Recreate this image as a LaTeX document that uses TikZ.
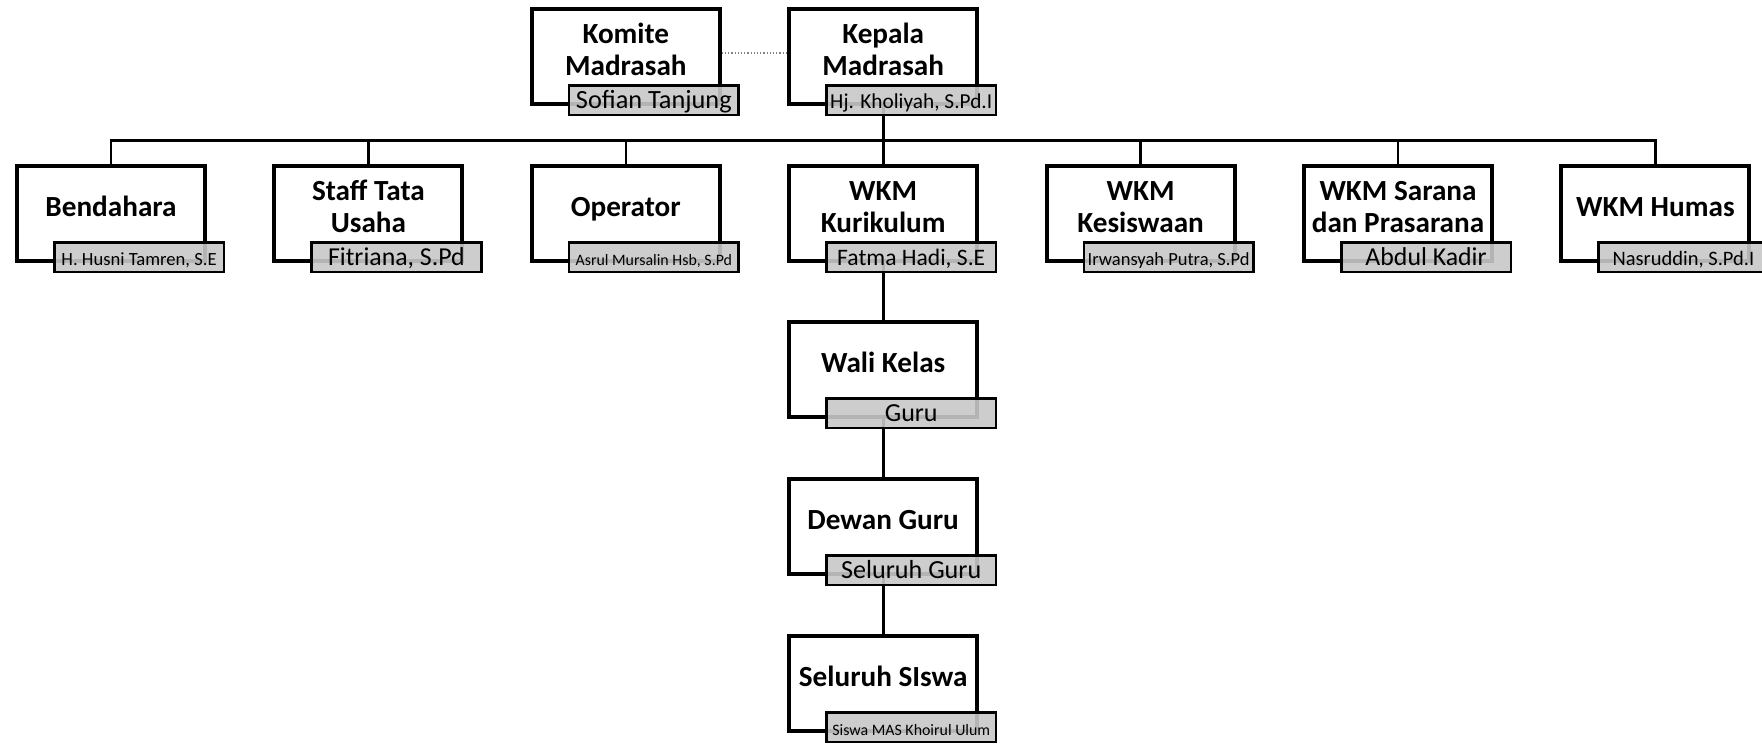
\documentclass[tikz,border=0pt]{standalone}
\usepackage{fontspec}
\setmainfont{Carlito}
\pgfdeclarelayer{bg}
\pgfsetlayers{bg,main}
\definecolor{lblgray}{RGB}{200,200,200}
\tikzset{
  mbox/.style={draw, line width=2pt, fill=white, minimum width=94pt, minimum height=47.5pt, inner sep=0pt},
  ttl/.style={inner sep=0pt, anchor=base, font=\fontsize{14.6}{16}\selectfont\bfseries},
  lbl/.style={draw, line width=1.25pt, fill=lblgray, fill opacity=0.9, text opacity=1, draw opacity=1,
    minimum width=84.8pt, minimum height=14.8pt, inner sep=0pt, text height=9pt, text depth=1pt, anchor=north west},
  conn/.style={line width=1.3pt, line join=miter},
  dotline/.style={densely dotted, line width=0.6pt, gray}
}
\newcommand\orgunit[7]{%
  \node[mbox] (#1) at ({#2+96},{#3+49.5}) {};
  \node[ttl] (#1T) at ({#2+96},{#3+#5}) {\begin{tabular}[t]{@{}c@{}}#4\end{tabular}};
  \node[lbl] (#1L) at ([shift={(38,77)}]#1.north west) {\fontsize{#6}{#6}\selectfont #7};
}
\begin{document}
\begin{tikzpicture}[x=0.5pt, y=-0.5pt]
\useasboundingbox (0,0) rectangle (1762,744);
\orgunit{komite}{529.8}{7}{Komite\\Madrasah}{36}{13.15}{Sofian Tanjung}
\orgunit{kepala}{787.2}{7}{Kepala\\Madrasah}{36}{10.65}{Hj. Kholiyah, S.Pd.I}
\orgunit{bendahara}{15}{164}{Bendahara}{52}{9.3}{H. Husni Tamren, S.E}
\orgunit{staff}{272.4}{164}{Staff Tata\\Usaha}{36}{12.9}{Fitriana, S.Pd}
\orgunit{operator}{529.8}{164}{Operator}{52}{7.95}{Asrul Mursalin Hsb, S.Pd}
\orgunit{kurikulum}{787.2}{164}{WKM\\Kurikulum}{36}{11.8}{Fatma Hadi, S.E}
\orgunit{kesiswaan}{1044.6}{164}{WKM\\Kesiswaan}{36}{9.25}{Irwansyah Putra, S.Pd}
\orgunit{sarana}{1302}{164}{WKM Sarana\\dan Prasarana}{36}{12.9}{Abdul Kadir}
\orgunit{humas}{1559.4}{164}{WKM Humas}{52}{10.25}{Nasruddin, S.Pd.I}
\orgunit{wali}{787.2}{320}{Wali Kelas}{52}{13}{Guru}
\orgunit{dewan}{787.2}{477}{Dewan Guru}{52}{13.05}{Seluruh Guru}
\orgunit{siswa}{787.2}{634}{Seluruh SIswa}{52}{7.95}{Siswa MAS Khoirul Ulum}
\coordinate (bus) at (0,140.5);
\begin{pgfonlayer}{bg}
\draw[dotline] ([yshift=1.75pt]komite.east) -- ([yshift=1.75pt]kepala.west);
\draw[conn] (kepala.south) -- (kepala |- bus);
\draw[conn] (bendahara.north) -- (bendahara |- bus) -- (humas |- bus) -- (humas.north);
\draw[conn] (staff.north) -- (staff |- bus);
\draw[conn] (operator.north) -- (operator |- bus);
\draw[conn] (kurikulum.north) -- (kurikulum |- bus);
\draw[conn] (kesiswaan.north) -- (kesiswaan |- bus);
\draw[conn] (sarana.north) -- (sarana |- bus);
\draw[conn] (kurikulum.south) -- (wali.north);
\draw[conn] (wali.south) -- (dewan.north);
\draw[conn] (dewan.south) -- (siswa.north);
\end{pgfonlayer}
\end{tikzpicture}
\end{document}
